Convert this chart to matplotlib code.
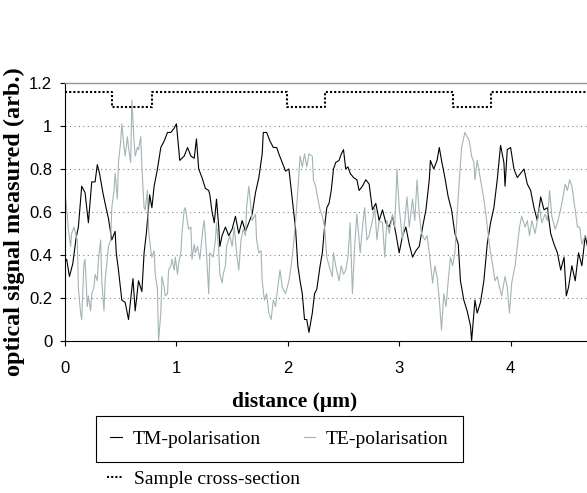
import matplotlib
matplotlib.use("Agg")
import matplotlib.pyplot as plt

# TM-polarisation (black)
tm_x = [0.00, 0.015, 0.04, 0.07, 0.10, 0.12, 0.15, 0.18, 0.21, 0.24, 0.27, 0.29, 0.31, 0.34, 0.36,
        0.39, 0.42, 0.45, 0.46, 0.48, 0.51, 0.54, 0.57, 0.61, 0.63, 0.66, 0.69, 0.71, 0.73, 0.76,
        0.78, 0.80, 0.83, 0.86, 0.89, 0.92, 0.95, 0.98, 1.00, 1.03, 1.07, 1.10, 1.13, 1.16, 1.18,
        1.20, 1.23, 1.26, 1.29, 1.30, 1.32, 1.34, 1.36, 1.38, 1.39, 1.41, 1.44, 1.47, 1.50, 1.53,
        1.56, 1.59, 1.62, 1.65, 1.68, 1.71, 1.74, 1.77, 1.78, 1.81, 1.84, 1.87, 1.90, 1.92, 1.95,
        1.98, 2.01, 2.04, 2.07, 2.09, 2.11, 2.13, 2.15, 2.17, 2.19, 2.22, 2.24, 2.26, 2.29, 2.31,
        2.33, 2.35, 2.37, 2.39, 2.41, 2.43, 2.46, 2.48, 2.50, 2.52, 2.54, 2.56, 2.59, 2.62, 2.64,
        2.67, 2.70, 2.73, 2.76, 2.79, 2.82, 2.85, 2.88, 2.91, 2.94, 2.97, 3.00, 3.03, 3.06, 3.09,
        3.12, 3.15, 3.18, 3.21, 3.24, 3.27, 3.28, 3.31, 3.34, 3.36, 3.38, 3.41, 3.44, 3.47, 3.50,
        3.53, 3.55, 3.58, 3.61, 3.64, 3.65, 3.68, 3.70, 3.73, 3.76, 3.79, 3.82, 3.85, 3.88, 3.91,
        3.94, 3.95, 3.97, 4.00, 4.03, 4.06, 4.09, 4.12, 4.15, 4.18, 4.21, 4.24, 4.27, 4.30, 4.33,
        4.36, 4.39, 4.42, 4.45, 4.48, 4.50, 4.52, 4.55, 4.58, 4.61, 4.64, 4.67, 4.69]
tm_y = [0.37, 0.38, 0.30, 0.36, 0.48, 0.53, 0.72, 0.69, 0.55, 0.74, 0.74, 0.82, 0.78, 0.69, 0.64,
        0.57, 0.47, 0.51, 0.41, 0.33, 0.19, 0.18, 0.10, 0.29, 0.14, 0.28, 0.23, 0.41, 0.50, 0.68,
        0.62, 0.72, 0.80, 0.90, 0.93, 0.97, 0.97, 0.99, 1.01, 0.84, 0.86, 0.90, 0.86, 0.85, 0.94,
        0.80, 0.76, 0.71, 0.70, 0.68, 0.60, 0.55, 0.66, 0.53, 0.44, 0.49, 0.53, 0.49, 0.52, 0.58,
        0.50, 0.56, 0.51, 0.55, 0.59, 0.69, 0.76, 0.87, 0.97, 0.97, 0.93, 0.90, 0.90, 0.87, 0.83,
        0.79, 0.80, 0.66, 0.52, 0.35, 0.28, 0.22, 0.10, 0.10, 0.04, 0.13, 0.22, 0.24, 0.35, 0.41,
        0.53, 0.62, 0.64, 0.70, 0.80, 0.83, 0.84, 0.87, 0.89, 0.80, 0.81, 0.78, 0.76, 0.75, 0.70,
        0.72, 0.75, 0.73, 0.61, 0.64, 0.56, 0.61, 0.55, 0.53, 0.58, 0.50, 0.41, 0.49, 0.53, 0.45,
        0.39, 0.42, 0.44, 0.53, 0.61, 0.75, 0.84, 0.80, 0.84, 0.90, 0.84, 0.76, 0.67, 0.61, 0.50,
        0.45, 0.28, 0.19, 0.14, 0.07, 0.00, 0.19, 0.13, 0.18, 0.28, 0.45, 0.55, 0.62, 0.75, 0.91,
        0.83, 0.72, 0.89, 0.90, 0.80, 0.76, 0.78, 0.80, 0.73, 0.70, 0.62, 0.56, 0.67, 0.61, 0.62,
        0.50, 0.45, 0.41, 0.33, 0.39, 0.21, 0.25, 0.35, 0.28, 0.41, 0.35, 0.49, 0.44]

# TE-polarisation (grey)
te_x = [0.00, 0.02, 0.03, 0.05, 0.06, 0.08, 0.11, 0.12, 0.14, 0.15, 0.17, 0.18, 0.20, 0.21, 0.23,
        0.24, 0.26, 0.27, 0.29, 0.30, 0.32, 0.33, 0.35, 0.36, 0.39, 0.41, 0.42, 0.44, 0.45, 0.47,
        0.48, 0.50, 0.51, 0.53, 0.54, 0.56, 0.57, 0.59, 0.60, 0.62, 0.63, 0.65, 0.66, 0.68, 0.69,
        0.71, 0.72, 0.74, 0.75, 0.77, 0.78, 0.80, 0.81, 0.83, 0.84, 0.86, 0.87, 0.89, 0.90, 0.92,
        0.93, 0.95, 0.96, 0.98, 0.99, 1.01, 1.02, 1.04, 1.05, 1.07, 1.08, 1.10, 1.11, 1.13, 1.14,
        1.16, 1.17, 1.19, 1.21, 1.24, 1.25, 1.27, 1.29, 1.30, 1.33, 1.35, 1.36, 1.38, 1.39, 1.41,
        1.42, 1.44, 1.45, 1.48, 1.50, 1.52, 1.54, 1.56, 1.58, 1.60, 1.62, 1.63, 1.65, 1.66, 1.68,
        1.71, 1.72, 1.74, 1.76, 1.77, 1.79, 1.81, 1.83, 1.85, 1.87, 1.89, 1.91, 1.93, 1.95, 1.98,
        2.01, 2.03, 2.05, 2.07, 2.09, 2.11, 2.13, 2.15, 2.17, 2.19, 2.22, 2.23, 2.25, 2.27, 2.29,
        2.31, 2.33, 2.35, 2.37, 2.40, 2.41, 2.43, 2.46, 2.48, 2.50, 2.52, 2.54, 2.56, 2.58, 2.60,
        2.62, 2.64, 2.65, 2.67, 2.69, 2.71, 2.73, 2.76, 2.78, 2.80, 2.82, 2.85, 2.87, 2.89, 2.91,
        2.94, 2.96, 2.98, 3.00, 3.03, 3.05, 3.07, 3.09, 3.12, 3.14, 3.16, 3.18, 3.20, 3.23, 3.25,
        3.27, 3.30, 3.32, 3.34, 3.36, 3.38, 3.40, 3.42, 3.44, 3.46, 3.48, 3.50, 3.52, 3.54, 3.56,
        3.59, 3.61, 3.63, 3.65, 3.67, 3.68, 3.70, 3.72, 3.74, 3.76, 3.78, 3.80, 3.82, 3.84, 3.86,
        3.88, 3.90, 3.92, 3.95, 3.97, 3.99, 4.01, 4.04, 4.06, 4.08, 4.10, 4.13, 4.15, 4.17, 4.19,
        4.22, 4.24, 4.26, 4.28, 4.31, 4.33, 4.35, 4.37, 4.40, 4.42, 4.44, 4.46, 4.49, 4.51, 4.53,
        4.55, 4.58, 4.60, 4.62, 4.64, 4.67, 4.69]
te_y = [0.69, 0.59, 0.52, 0.44, 0.50, 0.53, 0.47, 0.25, 0.13, 0.10, 0.36, 0.38, 0.16, 0.21, 0.14,
        0.22, 0.25, 0.31, 0.28, 0.38, 0.47, 0.28, 0.14, 0.28, 0.44, 0.47, 0.62, 0.70, 0.78, 0.66,
        0.83, 0.93, 1.01, 0.90, 0.86, 0.95, 0.90, 0.83, 1.12, 0.93, 0.86, 0.90, 0.89, 0.95, 0.81,
        0.62, 0.61, 0.70, 0.52, 0.42, 0.39, 0.42, 0.31, 0.24, 0.00, 0.13, 0.30, 0.25, 0.21, 0.22,
        0.33, 0.35, 0.38, 0.33, 0.39, 0.31, 0.36, 0.41, 0.50, 0.61, 0.62, 0.55, 0.52, 0.53, 0.38,
        0.45, 0.41, 0.44, 0.38, 0.53, 0.56, 0.41, 0.22, 0.41, 0.39, 0.47, 0.55, 0.42, 0.31, 0.27,
        0.31, 0.35, 0.44, 0.49, 0.44, 0.53, 0.41, 0.33, 0.47, 0.52, 0.49, 0.62, 0.72, 0.67, 0.56,
        0.59, 0.47, 0.41, 0.42, 0.28, 0.19, 0.22, 0.13, 0.10, 0.19, 0.16, 0.25, 0.33, 0.25, 0.22,
        0.28, 0.35, 0.44, 0.56, 0.70, 0.86, 0.81, 0.87, 0.81, 0.87, 0.86, 0.75, 0.72, 0.66, 0.61,
        0.58, 0.53, 0.39, 0.35, 0.30, 0.41, 0.35, 0.28, 0.35, 0.31, 0.33, 0.39, 0.55, 0.22, 0.44,
        0.59, 0.47, 0.41, 0.53, 0.62, 0.47, 0.49, 0.56, 0.62, 0.47, 0.56, 0.55, 0.39, 0.56, 0.50,
        0.59, 0.53, 0.80, 0.62, 0.47, 0.56, 0.67, 0.53, 0.66, 0.56, 0.75, 0.59, 0.50, 0.47, 0.49,
        0.41, 0.27, 0.35, 0.30, 0.19, 0.05, 0.22, 0.16, 0.28, 0.39, 0.35, 0.41, 0.59, 0.75, 0.90,
        0.97, 0.95, 0.93, 0.86, 0.83, 0.75, 0.84, 0.78, 0.72, 0.66, 0.58, 0.49, 0.41, 0.35, 0.28,
        0.30, 0.25, 0.21, 0.30, 0.25, 0.13, 0.27, 0.35, 0.44, 0.53, 0.58, 0.53, 0.56, 0.49, 0.56,
        0.50, 0.56, 0.62, 0.55, 0.59, 0.56, 0.70, 0.58, 0.52, 0.55, 0.59, 0.64, 0.73, 0.70, 0.75,
        0.72, 0.61, 0.53, 0.53, 0.45, 0.49, 0.47]

# sample cross-section (step profile)
sample_x = [0.0, 0.425, 0.78, 1.99, 2.33, 3.485, 3.82, 4.69]
sample_y = [1.16, 1.09, 1.16, 1.09, 1.16, 1.09, 1.16, 1.16]

yticks = [0, 0.2, 0.4, 0.6, 0.8, 1, 1.2]
ytick_labels = ['0', '0.2', '0.4', '0.6', '0.8', '1', '1.2']
xticks = [0, 1, 2, 3, 4]

sans = ['Liberation Sans', 'DejaVu Sans']
serif = ['Liberation Serif', 'DejaVu Serif']

fig = plt.figure(figsize=(5.87, 4.93), dpi=100)
ax = fig.add_axes([65 / 587, 152 / 493, 522 / 587, 258 / 493])

tm_line, = ax.plot(tm_x, tm_y, color='black', lw=0.8, label='TM-polarisation')
te_line, = ax.plot(te_x, te_y, color='#a3b5b5', lw=0.8, label='TE-polarisation')
sample_line, = ax.plot(sample_x, sample_y, color='black', lw=1.5, ls=(0, (1, 1)),
                       drawstyle='steps-post', label='Sample cross-section')

ax.set_xlim(0, 522 / 111.4)
ax.set_ylim(0, 1.2)
ax.set_yticks(yticks)
ax.set_yticklabels(ytick_labels, family=sans, fontsize=12)
ax.set_xticks(xticks)
ax.set_xticklabels([str(t) for t in xticks], family=sans, fontsize=12)
ax.tick_params(axis='y', direction='out', length=3.6, width=0.8, pad=5.5)
ax.tick_params(axis='x', direction='out', length=3.6, width=0.8, pad=11)

for y in yticks[1:-1]:
    ax.axhline(y, color='#808080', lw=0.8, ls=(0, (1, 3)), zorder=0)

ax.spines['right'].set_visible(False)
ax.spines['top'].set_color('#8c9c9c')
ax.spines['top'].set_linewidth(1.0)
ax.spines['left'].set_linewidth(0.8)
ax.spines['bottom'].set_linewidth(0.8)

fig.text(14 / 587, 1 - 222 / 493, 'optical signal measured (arb.)', rotation=90,
         ha='center', va='center', family=serif, fontweight='bold', fontsize=17.5)
fig.text(295 / 587, 1 - 402 / 493, 'distance (\u03bcm)', ha='center', va='center',
         family=serif, fontweight='bold', fontsize=15.5)

leg1 = fig.legend(handles=[tm_line, te_line], loc='center', ncol=2,
                  bbox_to_anchor=(279.4 / 587, 1 - 439 / 493),
                  prop={'family': serif, 'size': 14}, frameon=True, fancybox=False,
                  edgecolor='black', framealpha=1, handlelength=0.6, handletextpad=0.55,
                  columnspacing=2.2, borderpad=0.75, borderaxespad=0)
leg1.get_frame().set_linewidth(0.8)

leg2 = fig.legend(handles=[sample_line], loc='center left',
                  bbox_to_anchor=(107 / 587, 1 - 479 / 493),
                  prop={'family': serif, 'size': 14}, frameon=False,
                  handlelength=0.8, handletextpad=0.6, borderpad=0, borderaxespad=0)

fig.savefig('out.png', dpi=100)
